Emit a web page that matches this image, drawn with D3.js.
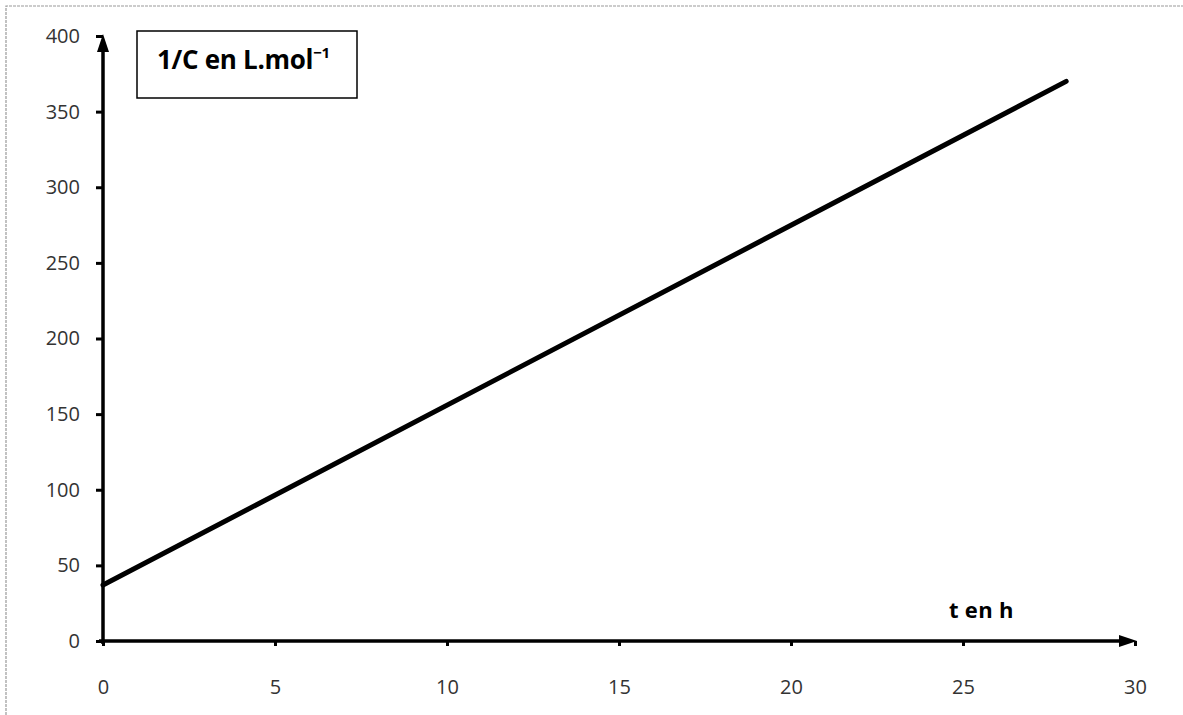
<!DOCTYPE html>
<html><head><meta charset="utf-8">
<script src="https://cdn.jsdelivr.net/npm/d3@7"></script>
<style>body{margin:0;background:#fff}svg{display:block}</style>
</head><body>
<svg id="c" width="1183" height="715"></svg>
<script>
const tValues = [0, 28];
const invC = [37, 370];
const xTicks = [0, 5, 10, 15, 20, 25, 30];
const yTicks = [0, 50, 100, 150, 200, 250, 300, 350, 400];
const yTitle = "1/C en L.mol";
const xTitle = "t en h";

const svg = d3.select("#c");
const x = d3.scaleLinear().domain([0, 30]).range([103, 1135]);
const y = d3.scaleLinear().domain([0, 400]).range([641, 36]);
const font = "'Open Sans', 'Liberation Sans', sans-serif";

// scan border
svg.append("path").attr("d", "M6,1183 V6 H1183").attr("fill", "none")
  .attr("stroke", "#999").attr("stroke-width", 1.2).attr("stroke-dasharray", "3,1");

// y axis
const ya = svg.append("g").attr("transform", `translate(${x(0)},0)`)
  .call(d3.axisLeft(y).tickValues(yTicks).tickSize(7).tickPadding(16).tickFormat(d3.format("d")));
ya.select(".domain").remove();
ya.selectAll("line").attr("stroke", "#000").attr("stroke-width", 3);
ya.selectAll("text").attr("font-family", font).attr("font-size", 20).attr("fill", "#333");

// x axis
const xa = svg.append("g").attr("transform", `translate(0,${y(0)})`)
  .call(d3.axisBottom(x).tickValues(xTicks).tickSize(5).tickPadding(34).tickFormat(d3.format("d")));
xa.select(".domain").remove();
xa.selectAll("line").attr("stroke", "#000").attr("stroke-width", 3);
xa.selectAll("text").attr("font-family", font).attr("font-size", 20).attr("fill", "#333");

// axis lines with arrows
svg.append("line").attr("x1", x(0)).attr("x2", x(0)).attr("y1", y(0) + 3).attr("y2", y(400) + 10)
  .attr("stroke", "#000").attr("stroke-width", 3.5);
svg.append("path").attr("d", `M${x(0)},${y(400)-2} L${x(0)-6},${y(400)+16} L${x(0)+6},${y(400)+16} Z`).attr("fill", "#000");
svg.append("line").attr("x1", x(0) - 4).attr("x2", x(30) - 10).attr("y1", y(0)).attr("y2", y(0))
  .attr("stroke", "#000").attr("stroke-width", 3.5);
svg.append("path").attr("d", `M${x(30)+2},${y(0)} L${x(30)-16},${y(0)-6} L${x(30)-16},${y(0)+6} Z`).attr("fill", "#000");

// data line
const line = d3.line().x((d, i) => x(tValues[i])).y(d => y(d));
svg.append("path").datum(invC).attr("d", line).attr("fill", "none")
  .attr("stroke", "#000").attr("stroke-width", 5).attr("stroke-linecap", "round");

// y title box
svg.append("rect").attr("x", 137).attr("y", 31).attr("width", 220).attr("height", 67)
  .attr("fill", "#fff").attr("stroke", "#000").attr("stroke-width", 1.5);
const tt = svg.append("text").attr("x", 157).attr("y", 69)
  .attr("font-family", font).attr("font-weight", "bold").attr("font-size", 26).attr("fill", "#000")
  .attr("letter-spacing", -0.3);
tt.append("tspan").text(yTitle);
tt.append("tspan").attr("dy", -11).attr("font-size", 15).text("−1");

// x title
svg.append("text").attr("x", 949).attr("y", 618)
  .attr("font-family", font).attr("font-weight", "bold").attr("font-size", 22).attr("fill", "#000")
  .attr("letter-spacing", 0.3).text(xTitle);
</script>
</body></html>
